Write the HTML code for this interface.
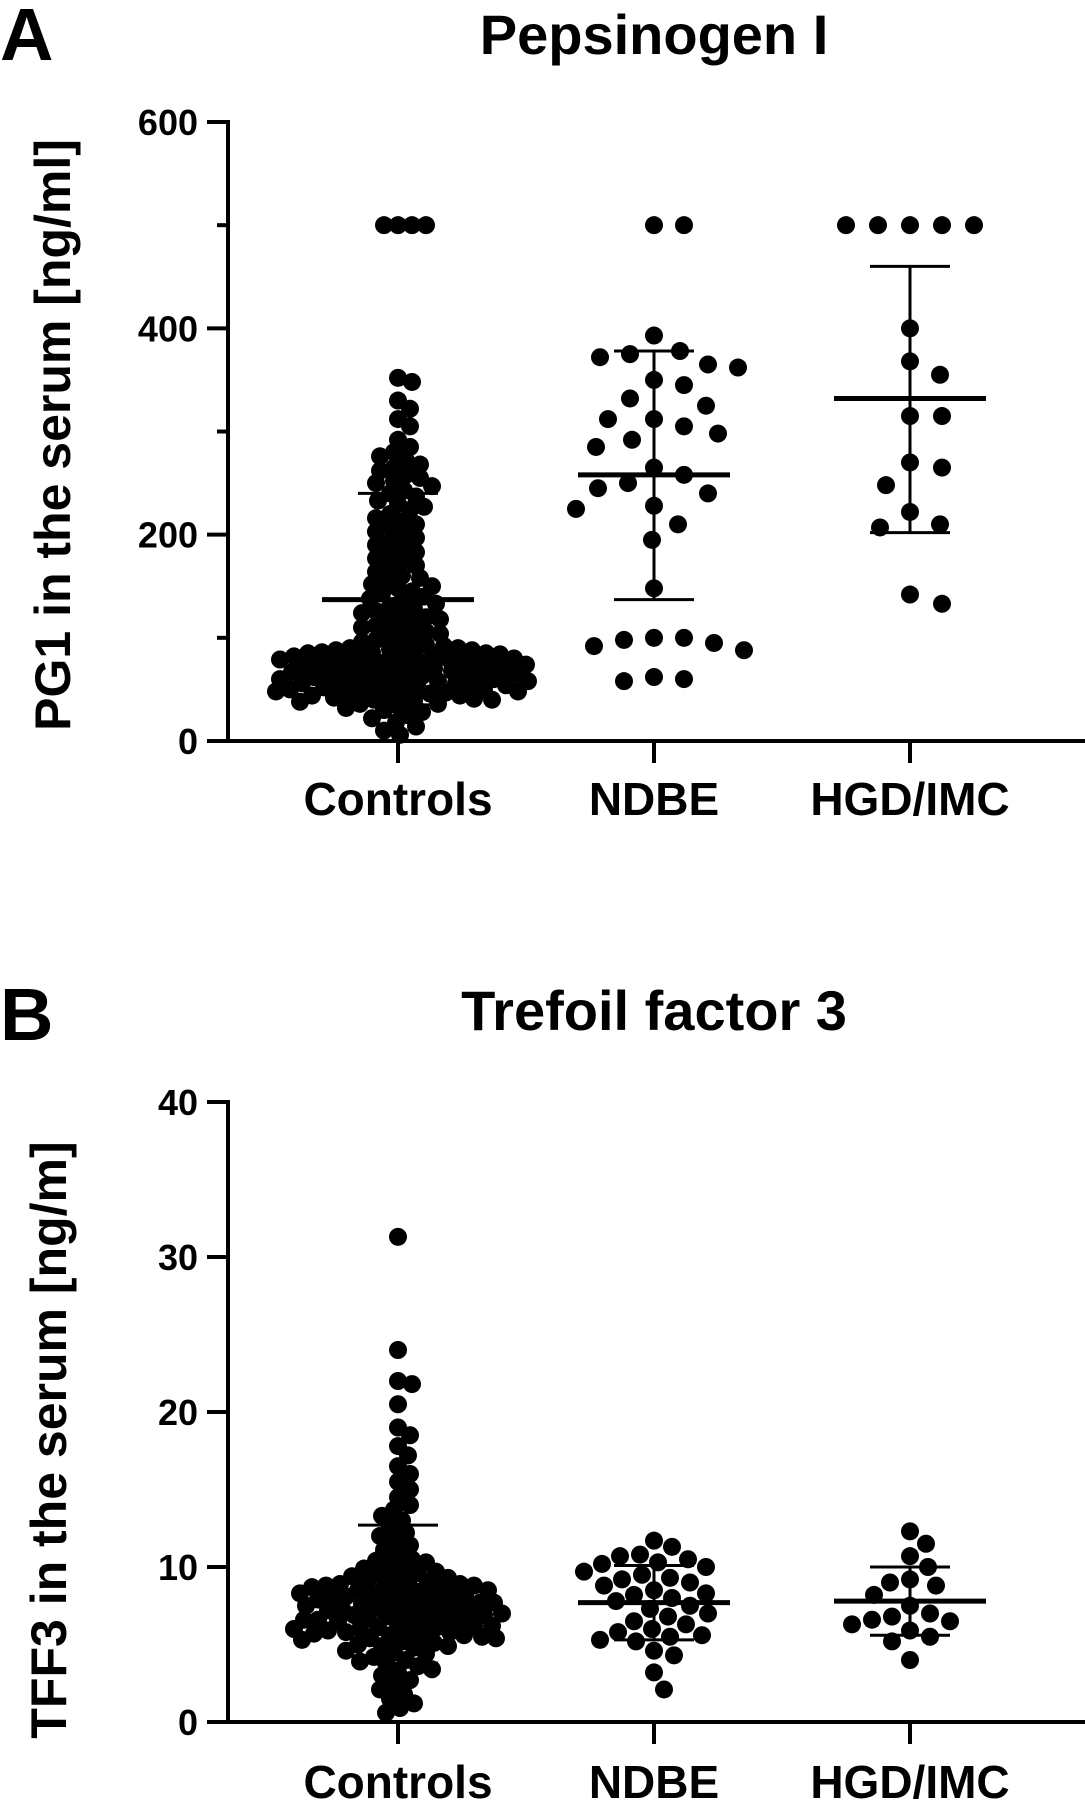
<!DOCTYPE html>
<html><head><meta charset="utf-8"><style>
html,body{margin:0;padding:0;background:#fff;}
svg{display:block;font-family:"Liberation Sans",Arial,sans-serif;font-weight:bold;}
</style></head><body>
<svg id="fig" width="1085" height="1800" viewBox="0 0 1085 1800">
<text x="0" y="60" font-size="74">A</text>
<text x="654" y="54" font-size="56" text-anchor="middle">Pepsinogen I</text>
<text x="0" y="1040" font-size="74">B</text>
<text x="654" y="1030" font-size="56" text-anchor="middle">Trefoil factor 3</text>
<g id="chartA"></g>
<g id="chartB"></g>
</svg>
<script>
const categories = ["Controls","NDBE","HGD/IMC"];
// Panel A: PG1 values
const pgControls = [500,500,500,500,352,348,330,322,312,305,292,285,280,276,272,268,265,262,258,255,252,250,247,243,240,237,233,230,227,224,220,216,213,210,207,203,200,197,193,190,187,183,180,177,174,170,167,164,160,158,155,152,150,148,145,143,140,138,136,133,130,128,126,124,122,120,118,116,114,112,110,108,106,104,102,100,98,96,95,93,92,90,89,88,87,86,85,84,83,82,81,80,79,78,77,76,75,74,73,72,71,70,69,68,67,66,65,64,63,62,61,60,59,58,57,56,55,54,53,52,51,50,49,48,47,46,45,44,43,42,41,40,39,38,36,34,32,30,28,25,22,18,14,10,6,88,85,80,76,72,68,64,60,56,52,48,44,40,36,90,86,82,78,74,70,66,62,58,54,50,46];
const pgNDBE = [500,500,393,378,375,372,365,362,350,345,332,325,312,312,305,298,292,285,265,258,250,245,240,228,225,210,195,148,100,100,98,95,92,88,62,60,58];
const pgHGD = [500,500,500,500,500,400,368,355,315,315,270,265,248,222,210,207,142,133];
const pgMean = [137,258,332];
const pgSDhigh = [240,378,460];
const pgSDlow = [35,137,202];
const pgTicks = [0,200,400,600];
const pgMinor = [100,300,500];
// Panel B: TFF3 values
const tfControls = [31.3,24,22,21.8,20.5,19,18.5,17.8,17.2,16.5,16,15.5,15,14.5,14,13.7,13.3,13,12.6,12.2,12,11.7,11.4,11.1,10.8,10.5,10.3,10.1,9.9,9.8,9.6,9.5,9.3,9.2,9.0,8.9,8.8,8.7,8.6,8.5,8.4,8.3,8.2,8.1,8.0,7.9,7.8,7.7,7.6,7.5,7.4,7.3,7.2,7.1,7.0,6.9,6.8,6.7,6.6,6.5,6.4,6.3,6.2,6.1,6.0,5.9,5.8,5.7,5.6,5.5,5.4,5.3,5.2,5.1,5.0,4.9,4.8,4.6,4.4,4.2,4.0,3.8,3.6,3.4,3.2,3.0,2.7,2.4,2.1,1.8,1.5,1.2,0.9,0.6,9.4,9.0,8.6,8.2,7.8,7.4,7.0,6.6,6.2,5.8,5.4,8.8,8.4,8.0,7.6,7.2,6.8,6.4,6.0,5.6,9.7,9.1,8.5,7.9,7.3,6.7,6.1,5.5,4.9,10.4,8.9,7.7,6.9,5.9,4.5,3.9];
const tfNDBE = [11.7,11.3,10.8,10.7,10.5,10.3,10.2,10.0,9.7,9.5,9.3,9.2,9.0,8.8,8.5,8.3,8.2,8.0,7.8,7.5,7.3,7.0,6.8,6.5,6.3,6.0,5.8,5.6,5.5,5.3,5.2,4.6,4.3,3.2,2.1];
const tfHGD = [12.3,11.5,10.7,10.0,9.2,9.0,8.8,8.2,7.5,7.0,6.8,6.6,6.5,6.3,5.9,5.5,5.2,4.0];
const tfMean = [8.3,7.7,7.8];
const tfSDhigh = [12.7,10.1,10.0];
const tfSDlow = [3.8,5.3,5.6];
const tfTicks = [0,10,20,30,40];

const NS="http://www.w3.org/2000/svg";
function mk(parent,tag,attrs){const e=document.createElementNS(NS,tag);for(const k in attrs)e.setAttribute(k,attrs[k]);parent.appendChild(e);return e;}
const catX=[398,654,910], R=9;

function drawChart(gid,groups,mean,hi,lo,ticks,minor,ymax,y0,yTop,ytitle,tcx,tcy,labelY,minDist){
  const g=document.getElementById(gid);
  const ys=v=>y0-(v/ymax)*(y0-yTop);
  groups.forEach((vals,gi)=>{
    const sorted=vals.slice().sort((a,b)=>b-a); const placed=[]; const md=minDist[gi];
    sorted.forEach(v=>{
      const y=ys(v); let off=0;
      for(let k=0;k<300;k++){
        const cand=k===0?0:(k%2?1:-1)*Math.ceil(k/2)*2;
        if(placed.every(p=>Math.hypot(p[0]-cand,p[1]-y)>=md)){off=cand;break;}
      }
      placed.push([off,y]);
      const c=mk(g,'circle',{cx:catX[gi]+off,cy:y,r:R,fill:'#000'});
      
      
    });
    const w=74;
    const ml=mk(g,'line',{x1:catX[gi]-w-2,x2:catX[gi]+w+2,y1:ys(mean[gi]),y2:ys(mean[gi]),stroke:'#000','stroke-width':5});
    
    
    const v=mk(g,'line',{x1:catX[gi],x2:catX[gi],y1:ys(hi[gi]),y2:ys(lo[gi]),stroke:'#000','stroke-width':3});
    
    
    [hi[gi],lo[gi]].forEach(s=>{
      const cap=mk(g,'line',{x1:catX[gi]-40,x2:catX[gi]+40,y1:ys(s),y2:ys(s),stroke:'#000','stroke-width':3});
      
      
    });
    const t=mk(g,'line',{x1:catX[gi],x2:catX[gi],y1:y0,y2:y0+22,stroke:'#000','stroke-width':4});
    
    
    const lb=mk(g,'text',{x:catX[gi],y:labelY,'font-size':46,'text-anchor':'middle'});
    lb.textContent=categories[gi];
    
    
  });
  const ya=mk(g,'line',{x1:228,x2:228,y1:yTop-2,y2:y0+2,stroke:'#000','stroke-width':4});
  
  
  const xa=mk(g,'line',{x1:226,x2:1085,y1:y0,y2:y0,stroke:'#000','stroke-width':4});
  
  
  ticks.forEach(tv=>{
    const t=mk(g,'line',{x1:207,x2:228,y1:ys(tv),y2:ys(tv),stroke:'#000','stroke-width':4});
    
    
    const tl=mk(g,'text',{x:198,y:ys(tv)+13,'font-size':36,'text-anchor':'end'});
    tl.textContent=tv;
    
    
  });
  minor.forEach(tv=>{
    const t=mk(g,'line',{x1:217,x2:228,y1:ys(tv),y2:ys(tv),stroke:'#000','stroke-width':4});
    
    
  });
  const tt=mk(g,'text',{x:tcx,y:tcy,'font-size':50,'text-anchor':'middle',transform:`rotate(-90 ${tcx} ${tcy})`});
  tt.textContent=ytitle;
  
  
}
drawChart('chartA',[pgControls,pgNDBE,pgHGD],pgMean,pgSDhigh,pgSDlow,pgTicks,pgMinor,600,741,122,'PG1 in the serum [ng/ml]',70,435,815,[13,30,32]);
drawChart('chartB',[tfControls,tfNDBE,tfHGD],tfMean,tfSDhigh,tfSDlow,tfTicks,[],40,1722,1102,'TFF3 in the serum [ng/m]',66,1440,1798,[13,19,20]);
</script>
</body></html>
